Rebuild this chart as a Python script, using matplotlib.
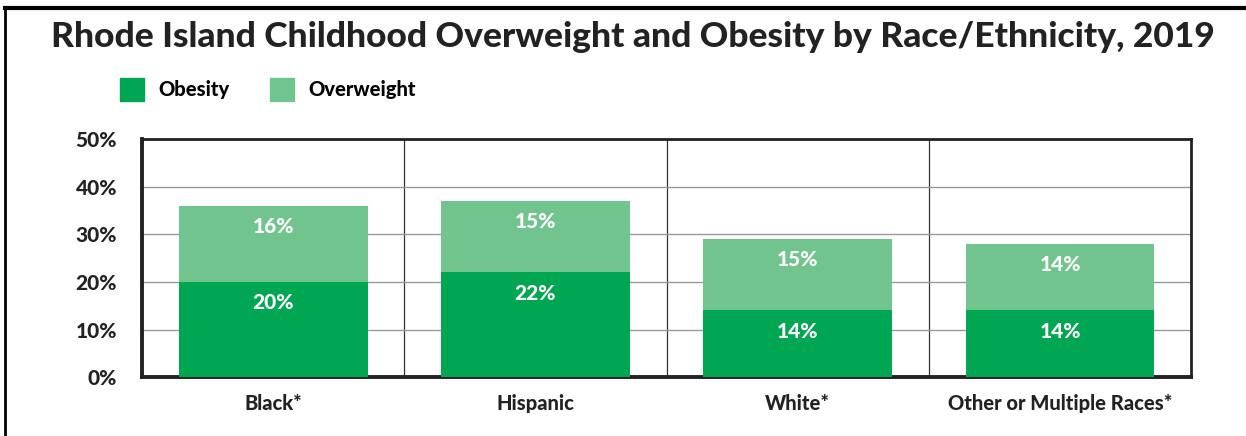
"""Rhode Island childhood overweight and obesity by race/ethnicity, 2019."""

import matplotlib

matplotlib.use("Agg")

import matplotlib.pyplot as plt
from matplotlib.lines import Line2D
from matplotlib.patches import Patch
import numpy as np

categories = ["Black*", "Hispanic", "White*", "Other or Multiple Races*"]
obesity = [20, 22, 14, 14]
overweight = [16, 15, 15, 14]
yticks = [0, 10, 20, 30, 40, 50]

DARK_GREEN = "#00A651"
LIGHT_GREEN = "#72C48E"
INK = "#222222"
WEIGHT = 900

plt.rcParams["font.family"] = ["Lato", "DejaVu Sans"]

fig = plt.figure(figsize=(12.46, 4.36), dpi=100)
ax = fig.add_axes([0.114, 0.135, 0.842, 0.546])

x = np.arange(len(categories))
bar_width = 0.72
ax.bar(x, obesity, width=bar_width, color=DARK_GREEN, zorder=3)
ax.bar(x, overweight, width=bar_width, bottom=obesity, color=LIGHT_GREEN, zorder=3)

for xi, ob, ov in zip(x, obesity, overweight):
    for val, top in [(ob, ob), (ov, ob + ov)]:
        ax.annotate(f"{val}%", (xi, top), xytext=(0, -8), textcoords="offset points",
                    ha="center", va="top", color="white", fontsize=15, fontweight=WEIGHT, zorder=4)

ax.set_xlim(-0.5, len(categories) - 0.5)
ax.set_ylim(0, 50)
ax.set_yticks(yticks)
ax.set_yticklabels([f"{v}%" for v in yticks], fontsize=15, fontweight=WEIGHT, color=INK)
ax.set_xticks(x)
ax.set_xticklabels(categories, fontsize=14.5, fontweight=WEIGHT, color=INK)
ax.tick_params(axis="x", length=0, pad=12)
ax.tick_params(axis="y", length=0, pad=18)

ax.grid(axis="y", color="#999999", lw=1.0, zorder=0)
for b in np.arange(0.5, len(categories) - 0.5):
    ax.axvline(b, color="#333333", lw=0.9, zorder=1)

for side in ["left", "bottom"]:
    ax.spines[side].set_linewidth(2.8)
for side in ["top", "right"]:
    ax.spines[side].set_linewidth(2.0)
for spine in ax.spines.values():
    spine.set_color(INK)

fig.text(0.508, 0.915, "Rhode Island Childhood Overweight and Obesity by Race/Ethnicity, 2019",
         ha="center", va="center", fontsize=25.5, fontweight=WEIGHT, color=INK)

handles = [Patch(color=DARK_GREEN), Patch(color=LIGHT_GREEN)]
fig.legend(handles, ["Obesity", "Overweight"], loc="center left", bbox_to_anchor=(0.082, 0.795),
           ncol=2, frameon=False, handlelength=1.2, handleheight=1.35, handletextpad=0.7,
           columnspacing=2.0, prop={"weight": WEIGHT, "size": 14.5})

# outer frame lines (top and left)
fig.add_artist(Line2D([0.004, 1.0], [0.982, 0.982], color="black", lw=3, transform=fig.transFigure))
fig.add_artist(Line2D([0.004, 0.004], [0.0, 0.982], color="black", lw=2, transform=fig.transFigure))

fig.savefig("out.png", dpi=100)
